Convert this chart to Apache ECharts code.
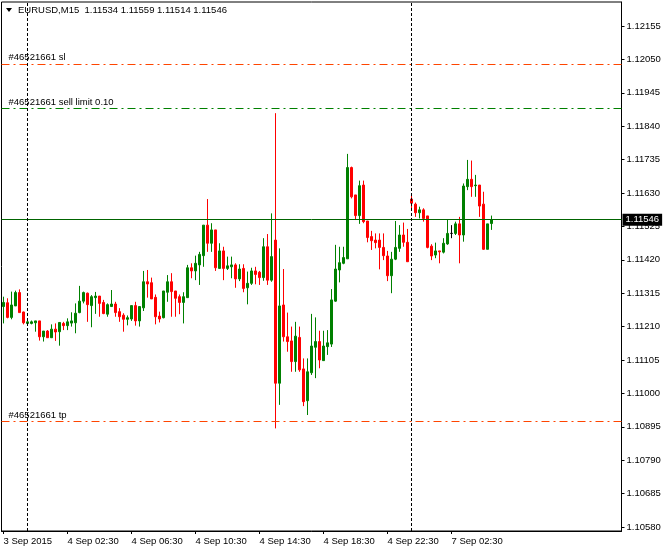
<!DOCTYPE html>
<html><head><meta charset="utf-8">
<script src="https://cdn.jsdelivr.net/npm/echarts@6/dist/echarts.min.js"></script>
<style>html,body{margin:0;padding:0;background:#fff}#c{width:665px;height:549px}</style>
</head><body><div id="c"></div>
<script>
const headerText = "EURUSD,M15  1.11534 1.11559 1.11514 1.11546";
const timeLabels = ["3 Sep 2015","4 Sep 02:30","4 Sep 06:30","4 Sep 10:30","4 Sep 14:30","4 Sep 18:30","4 Sep 22:30","7 Sep 02:30"];
const barsPerLabel = 16;
const totalSlots = 155;
const priceTicks = [1.10580,1.10685,1.10790,1.10895,1.11000,1.11105,1.11210,1.11315,1.11420,1.11525,1.11630,1.11735,1.11840,1.11945,1.12050,1.12155];
const separatorBars = [6, 102];
const orderLineNames = ["#46521661 sl", "#46521661 sell limit 0.10", "#46521661 tp"];
const orderLinePrices = [1.12036, 1.11897, 1.10911];
const orderLineColors = ["#ff4500", "#008000", "#ff4500"];
const lastPrice = 1.11546;

const open = [
1.11273,1.11285,1.11239,1.11275,1.11317,1.11256,1.11220,1.11220,1.11222,1.11228,
1.11178,1.11196,1.11175,1.11202,1.11194,1.11220,1.11213,1.11221,1.11222,1.11254,
1.11290,1.11315,1.11276,1.11301,1.11306,1.11286,1.11249,1.11273,1.11281,1.11257,
1.11246,1.11233,1.11234,1.11276,1.11228,1.11269,1.11351,1.11348,1.11302,1.11243,
1.11238,1.11318,1.11351,1.11322,1.11304,1.11286,1.11301,1.11395,1.11385,1.11404,
1.11433,1.11529,1.11472,1.11514,1.11393,1.11448,1.11393,1.11398,1.11404,1.11360,
1.11393,1.11332,1.11346,1.11385,1.11381,1.11364,1.11461,1.11356,1.11482,1.11032,
1.11278,1.11178,1.11165,1.11100,1.11176,1.11077,1.10977,1.11065,1.11145,1.11163,
1.11103,1.11147,1.11155,1.11290,1.11388,1.11409,1.11423,1.11710,1.11624,1.11559,
1.11655,1.11542,1.11493,1.11482,1.11482,1.11459,1.11432,1.11370,1.11422,1.11456,
1.11498,1.11475,1.11611,1.11595,1.11568,1.11577,1.11558,1.11463,1.11435,1.11448,
1.11444,1.11470,1.11503,1.11503,1.11533,1.11498,1.11650,1.11673,1.11653,1.11655,
1.11595,1.11453,1.11534];
const close = [
1.11286,1.11239,1.11278,1.11317,1.11254,1.11222,1.11225,1.11225,1.11228,1.11178,
1.11196,1.11175,1.11202,1.11193,1.11223,1.11213,1.11225,1.11228,1.11252,1.11290,
1.11317,1.11279,1.11304,1.11306,1.11283,1.11251,1.11279,1.11281,1.11254,1.11241,
1.11233,1.11238,1.11276,1.11228,1.11273,1.11351,1.11344,1.11297,1.11241,1.11234,
1.11322,1.11351,1.11320,1.11299,1.11286,1.11304,1.11395,1.11385,1.11409,1.11437,
1.11529,1.11472,1.11514,1.11395,1.11448,1.11393,1.11401,1.11404,1.11360,1.11391,
1.11330,1.11346,1.11385,1.11374,1.11364,1.11461,1.11356,1.11430,1.11032,1.11275,
1.11178,1.11163,1.11100,1.11180,1.11074,1.10974,1.11068,1.11149,1.11163,1.11105,
1.11149,1.11159,1.11294,1.11391,1.11411,1.11427,1.11710,1.11618,1.11559,1.11653,
1.11540,1.11490,1.11480,1.11474,1.11459,1.11433,1.11370,1.11422,1.11459,1.11498,
1.11475,1.11414,1.11598,1.11568,1.11577,1.11550,1.11459,1.11432,1.11448,1.11445,
1.11472,1.11503,1.11503,1.11533,1.11498,1.11652,1.11673,1.11650,1.11655,1.11589,
1.11453,1.11533,1.11546];
const high = [
1.11304,1.11299,1.11320,1.11323,1.11327,1.11257,1.11231,1.11229,1.11228,1.11228,
1.11196,1.11199,1.11217,1.11220,1.11223,1.11225,1.11236,1.11255,1.11283,1.11338,
1.11320,1.11317,1.11309,1.11319,1.11306,1.11294,1.11283,1.11325,1.11288,1.11268,
1.11252,1.11245,1.11276,1.11288,1.11273,1.11385,1.11388,1.11364,1.11311,1.11257,
1.11322,1.11372,1.11378,1.11322,1.11311,1.11318,1.11404,1.11409,1.11433,1.11445,
1.11529,1.11611,1.11535,1.11514,1.11472,1.11461,1.11430,1.11430,1.11409,1.11406,
1.11406,1.11383,1.11395,1.11398,1.11385,1.11488,1.11501,1.11566,1.11881,1.11456,
1.11391,1.11254,1.11210,1.11225,1.11210,1.11110,1.11110,1.11250,1.11239,1.11197,
1.11197,1.11199,1.11328,1.11467,1.11461,1.11461,1.11753,1.11713,1.11624,1.11669,
1.11669,1.11542,1.11511,1.11503,1.11503,1.11503,1.11448,1.11445,1.11542,1.11529,
1.11537,1.11517,1.11629,1.11600,1.11587,1.11582,1.11558,1.11469,1.11474,1.11448,
1.11488,1.11547,1.11529,1.11540,1.11555,1.11660,1.11734,1.11732,1.11687,1.11655,
1.11634,1.11533,1.11559];
const low = [
1.11220,1.11236,1.11233,1.11275,1.11254,1.11217,1.11215,1.11217,1.11194,1.11166,
1.11163,1.11175,1.11175,1.11165,1.11150,1.11199,1.11199,1.11210,1.11189,1.11252,
1.11283,1.11225,1.11208,1.11250,1.11241,1.11249,1.11241,1.11273,1.11241,1.11225,
1.11194,1.11214,1.11228,1.11213,1.11210,1.11259,1.11301,1.11297,1.11217,1.11223,
1.11236,1.11288,1.11241,1.11241,1.11249,1.11220,1.11301,1.11362,1.11356,1.11341,
1.11398,1.11445,1.11445,1.11385,1.11393,1.11356,1.11388,1.11362,1.11332,1.11353,
1.11318,1.11280,1.11341,1.11343,1.11341,1.11354,1.11341,1.11351,1.10890,1.10964,
1.11163,1.11131,1.11068,1.11068,1.11068,1.10960,1.10932,1.11058,1.11048,1.11079,
1.11103,1.11121,1.11146,1.11288,1.11349,1.11406,1.11423,1.11613,1.11545,1.11533,
1.11535,1.11475,1.11451,1.11456,1.11390,1.11419,1.11353,1.11315,1.11419,1.11445,
1.11461,1.11414,1.11582,1.11555,1.11550,1.11540,1.11456,1.11419,1.11425,1.11409,
1.11440,1.11467,1.11488,1.11498,1.11409,1.11477,1.11639,1.11618,1.11618,1.11555,
1.11451,1.11453,1.11514];

const FONT = "'Liberation Sans', Arial, sans-serif";
const FS = 9.5;
const slots = [];
for (let i = 0; i < totalSlots; i++) slots.push(String(i));
const candles = open.map((o, i) => [o, close[i], low[i], high[i]]);
const showTick = (idx) => idx % barsPerLabel === 0 && idx / barsPerLabel < timeLabels.length;

const lineData = orderLinePrices.map((p, i) => ({
  yAxis: p,
  lineStyle: { color: orderLineColors[i], type: [8, 4, 2, 4], width: 1 },
  label: { show: true, position: 'insideStartTop', formatter: orderLineNames[i], color: '#000',
           fontSize: FS, fontFamily: FONT, distance: [7, 1] }
}));
lineData.push({
  yAxis: lastPrice,
  lineStyle: { color: '#006400', type: 'solid', width: 1 },
  label: { show: true, position: 'end', formatter: lastPrice.toFixed(5), color: '#fff',
           backgroundColor: '#000', padding: [1, 3, 1, 3], distance: 1, fontSize: FS, fontFamily: FONT }
});
separatorBars.forEach(b => lineData.push({
  xAxis: String(b),
  lineStyle: { color: '#000', type: [3, 2], width: 1 },
  label: { show: false }
}));

const chart = echarts.init(document.getElementById('c'), null, { renderer: 'canvas' });
chart.setOption({
  animation: false,
  backgroundColor: '#fff',
  grid: { left: 1.5, right: 43.5, top: 2, bottom: 18, show: true, borderColor: '#000', borderWidth: 1, backgroundColor: 'transparent' },
  graphic: [
    { type: 'polygon', shape: { points: [[6, 8], [12, 8], [9, 12]] }, style: { fill: '#000' }, z: 10 },
    { type: 'text', left: 18, top: 5, z: 10, style: { text: headerText, fill: '#000', font: FS + 'px ' + FONT } }
  ],
  xAxis: {
    type: 'category', data: slots, boundaryGap: true,
    axisLine: { show: true, lineStyle: { color: '#000' } },
    axisTick: { show: true, alignWithLabel: true, interval: showTick, length: 3, lineStyle: { color: '#000' } },
    axisLabel: { interval: showTick, align: 'left', margin: 5, color: '#000', fontSize: FS, fontFamily: FONT,
                 formatter: (v, idx) => timeLabels[idx / barsPerLabel] || '' },
    splitLine: { show: false }
  },
  yAxis: {
    type: 'value', position: 'right', min: 1.105674, max: 1.122305, scale: true,
    axisLine: { show: true, lineStyle: { color: '#000' } },
    axisTick: { show: true, length: 3, customValues: priceTicks, lineStyle: { color: '#000' } },
    axisLabel: { customValues: priceTicks, formatter: v => v.toFixed(5), color: '#000', fontSize: FS, fontFamily: FONT, margin: 5 },
    splitLine: { show: false }
  },
  series: [{
    type: 'candlestick',
    data: candles,
    barWidth: 2,
    itemStyle: { color: '#008000', color0: '#ff0000', borderColor: '#008000', borderColor0: '#ff0000', borderColorDoji: '#000', borderWidth: 1 },
    markLine: { symbol: ['none', 'none'], silent: true, animation: false, precision: 5, data: lineData }
  }]
});
</script></body></html>
